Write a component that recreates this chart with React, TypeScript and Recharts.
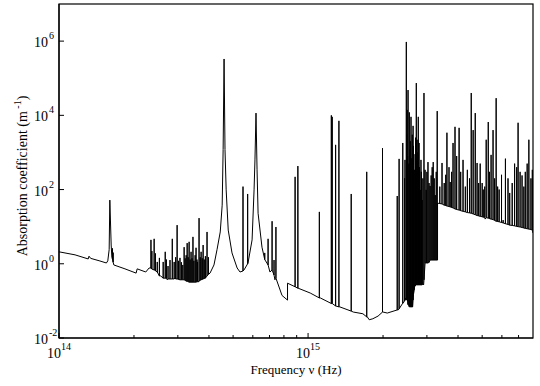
import React from 'react';
import { LineChart, Line, XAxis, YAxis } from 'recharts';

// Smooth absorption profile (continuum + broad Lorentzian bands), Hz -> m^-1
const continuumHz = [
  1.0e14, 1.16e14, 1.31e14, 1.32e14, 1.34e14, 1.46e14, 1.55e14, 1.57e14, 1.59e14, 1.6e14,
  1.62e14, 1.63e14, 1.66e14, 1.84e14, 2.04e14, 2.06e14, 2.23e14, 2.3e14, 2.43e14, 2.56e14,
  2.72e14, 2.92e14, 3.12e14, 3.36e14, 3.61e14, 3.85e14, 4.04e14, 4.19e14, 4.31e14, 4.44e14,
  4.52e14, 4.56e14, 4.6e14, 4.64e14, 4.69e14, 4.78e14, 4.95e14, 5.19e14, 5.33e14, 5.53e14,
  5.74e14, 5.96e14, 6.07e14, 6.12e14, 6.18e14, 6.24e14, 6.3e14, 6.53e14, 6.72e14, 7.03e14,
  7.36e14, 7.86e14, 8.27e14, 8.27e14, 9.12e14, 1.02e15, 1.12e15, 1.34e15, 1.52e15, 1.66e15,
  1.73e15, 1.76e15, 1.82e15, 1.91e15, 2.0e15, 2.08e15, 2.3e15, 2.41e15, 2.47e15, 2.56e15,
  2.63e15, 2.68e15, 2.91e15, 2.96e15, 3.04e15, 3.1e15, 3.31e15, 3.31e15, 5.14e15, 8.0e15,
];
const continuumAbs = [
  2.1, 1.74, 1.35, 1.6, 1.4, 1.19, 1.05, 1.2, 2.4, 52,
  3.2, 1.5, 0.93, 0.73, 0.56, 0.73, 0.6, 0.77, 0.68, 0.47,
  0.37, 0.41, 0.37, 0.32, 0.32, 0.41, 0.56, 0.93, 2.4, 7.2,
  38, 1.2e3, 3.3e5, 1.2e3, 98, 8.1, 1.96, 0.77, 0.6, 0.68,
  1.05, 4.4, 98, 630, 1.15e4, 340, 23, 2.8, 1.26, 0.6,
  0.37, 0.14, 0.105, 0.3, 0.22, 0.163, 0.12, 0.069, 0.05, 0.045,
  0.037, 0.031, 0.033, 0.039, 0.05, 0.047, 0.057, 0.087, 0.12, 0.069,
  0.069, 0.27, 0.27, 1.05, 1.05, 1.26, 1.26, 43, 16, 6.7,
];

// Narrow lines below 3.3e15 Hz: position, floor under the line, peak
const lowLineHz = [
  1.64e14, 1.65e14,
  2.34e14, 2.36e14, 2.41e14, 2.44e14, 2.48e14, 2.53e14, 2.62e14, 2.67e14, 2.7e14, 2.74e14,
  2.79e14, 2.85e14, 2.9e14, 2.94e14, 2.98e14, 3.02e14, 3.06e14, 3.1e14, 3.14e14, 3.18e14,
  3.21e14, 3.24e14, 3.27e14, 3.3e14, 3.33e14, 3.36e14, 3.39e14, 3.42e14, 3.45e14, 3.48e14,
  3.52e14, 3.55e14, 3.58e14, 3.6e14, 3.65e14, 3.69e14, 3.72e14, 3.76e14, 3.79e14, 3.83e14,
  3.87e14, 3.93e14, 3.98e14,
  5.48e14, 5.72e14, 6.7e14, 6.91e14, 7.17e14, 7.3e14, 7.43e14,
  8.87e14, 9.1e14, 1.11e15, 1.24e15, 1.25e15, 1.29e15, 1.33e15, 1.49e15, 1.72e15, 1.99e15,
  2.28e15, 2.32e15, 2.4e15,
  2.44e15, 2.45e15, 2.48e15, 2.49e15, 2.5e15, 2.51e15, 2.52e15, 2.54e15, 2.55e15, 2.57e15,
  2.58e15, 2.59e15, 2.61e15, 2.62e15, 2.64e15, 2.65e15, 2.67e15, 2.69e15, 2.7e15, 2.72e15,
  2.73e15, 2.74e15, 2.76e15, 2.77e15, 2.79e15, 2.8e15, 2.82e15, 2.84e15, 2.85e15, 2.87e15,
  2.89e15, 2.92e15, 2.95e15, 2.98e15, 3.0e15, 3.03e15, 3.06e15, 3.09e15, 3.12e15, 3.15e15,
  3.18e15, 3.21e15, 3.24e15, 3.27e15, 3.3e15,
];
const lowLineBase = [
  1.3, 1.1,
  0.77, 0.72, 0.68, 0.64, 0.6, 0.47, 0.41, 0.41, 0.4, 0.39,
  0.39, 0.39, 0.39, 0.39, 0.39, 0.38, 0.37, 0.37, 0.37, 0.37,
  0.36, 0.34, 0.34, 0.33, 0.32, 0.32, 0.32, 0.32, 0.32, 0.32,
  0.32, 0.32, 0.33, 0.34, 0.34, 0.36, 0.37, 0.38, 0.39, 0.4,
  0.41, 0.47, 0.52,
  0.64, 1.0, 1.3, 0.93, 0.68, 0.5, 0.41,
  0.24, 0.22, 0.12, 0.085, 0.085, 0.073, 0.069, 0.053, 0.037, 0.05,
  0.057, 0.061, 0.087,
  0.1, 0.105, 0.105, 0.11, 0.13, 0.1, 0.08, 0.075, 0.069, 0.069,
  0.069, 0.069, 0.069, 0.069, 0.105, 0.15, 0.2, 0.25, 0.27, 0.27,
  0.27, 0.27, 0.27, 0.27, 0.27, 0.27, 0.27, 0.27, 0.27, 0.27,
  0.3, 0.37, 1.05, 1.05, 1.05, 1.05, 1.1, 1.26, 1.26, 1.26,
  1.26, 1.26, 1.26, 1.26, 1.26,
];
const lowLinePeak = [
  2.6, 2.0,
  4.4, 2.2, 4.7, 1.9, 1.12, 1.44, 1.12, 2.1, 1.3, 0.87,
  1.26, 4.7, 1.12, 1.5, 11, 1.2, 1.44, 1.1, 0.93, 2.8,
  1.4, 1.7, 3.6, 1.5, 3.9, 1.3, 2.1, 1.4, 5.3, 1.2,
  1.7, 2.7, 1.3, 1.12, 17, 1.5, 2.1, 1.4, 3.2, 1.3,
  1.6, 7.2, 1.5,
  120, 76, 1.96, 4.7, 14, 1.26, 9.8,
  220, 430, 25, 1.0e4, 9.1e3, 1.6e3, 7.1e3, 76, 300, 1.3e3,
  67, 670, 1.8e3,
  200, 630, 9.5e5, 3.0e3, 1.4e4, 800, 4.8e4, 500, 1.2e4, 1.2e3,
  2.0e3, 9.1e3, 700, 3.0e3, 5.2e3, 1.5e3, 340, 900, 2.5e3, 7.4e4,
  600, 2.2e3, 1.0e3, 9.1e3, 1.8e3, 400, 98, 630, 300, 52,
  200, 4.0e4, 340, 98, 300, 550, 150, 125, 240, 400,
  550, 200, 71, 300, 1.3e4,
];

// Lines on the raised continuum above 3.3e15 Hz
const highLineHz = [
  3.38e15, 3.45e15, 3.52e15, 3.57e15, 3.61e15, 3.68e15, 3.72e15, 3.77e15, 3.82e15, 3.89e15,
  3.95e15, 4.04e15, 4.1e15, 4.19e15, 4.28e15, 4.36e15, 4.45e15, 4.52e15, 4.6e15, 4.69e15,
  4.77e15, 4.84e15, 4.91e15, 5.0e15, 5.05e15, 5.12e15, 5.19e15, 5.29e15, 5.35e15, 5.43e15,
  5.53e15, 5.61e15, 5.69e15, 5.77e15, 5.85e15, 5.98e15, 6.07e15, 6.2e15, 6.35e15, 6.45e15,
  6.6e15, 6.75e15, 6.88e15, 6.97e15, 7.1e15, 7.23e15, 7.35e15, 7.45e15, 7.58e15, 7.7e15,
  7.85e15, 7.95e15,
];
const highLineBase = [
  42, 41, 38, 37, 36, 35, 34, 33, 32, 30,
  29, 28, 27, 26, 25, 24, 23.5, 23, 22, 21,
  20, 19.5, 19, 18.5, 18, 17.8, 17.5, 17, 16.5, 16,
  15.5, 14.8, 14, 13.8, 13.5, 13, 12.6, 12, 11.5, 11,
  10.8, 10.5, 10.2, 10, 9.8, 9.5, 9.2, 9, 8.8, 8.6,
  8.4, 8.1,
];
const highLinePeak = [
  120, 520, 150, 250, 3.4e3, 400, 160, 300, 1.8e3, 4.9e3,
  800, 4.6e3, 300, 630, 120, 340, 200, 4.0e4, 4.0e3, 1.15e4,
  520, 150, 500, 150, 100, 120, 2.2e3, 6.6e3, 300, 860,
  4.0e3, 200, 2.9e4, 120, 100, 250, 15, 680, 200, 81,
  150, 500, 400, 6.3e3, 300, 240, 120, 300, 500, 2.2e3,
  200, 340,
];

const xTicks = [
  1e14, 2e14, 3e14, 4e14, 5e14, 6e14, 7e14, 8e14, 9e14,
  1e15, 2e15, 3e15, 4e15, 5e15, 6e15, 7e15,
];
const yTicks = [1e-2, 1e0, 1e2, 1e4, 1e6];

type Point = { hz: number; abs: number };

const toLines = (hz: number[], base: number[], peak: number[]): Point[] =>
  hz.flatMap((f, i) => [
    { hz: f, abs: base[i] },
    { hz: f, abs: peak[i] },
    { hz: f, abs: base[i] },
  ]);

const spectrum: Point[] = [
  ...continuumHz.map((hz, i) => ({ hz, abs: continuumAbs[i] })),
  ...toLines(lowLineHz, lowLineBase, lowLinePeak),
  ...toLines(highLineHz, highLineBase, highLinePeak),
].sort((a, b) => a.hz - b.hz);

const FONT = '"Liberation Serif", "Times New Roman", serif';

const isDecade = (v: number) => Math.abs(Math.log10(v) - Math.round(Math.log10(v))) < 1e-6;

const BottomTick = (props: any) => {
  const { x, y, payload } = props;
  const major = isDecade(payload.value);
  const exp = Math.round(Math.log10(payload.value));
  return (
    <g>
      <line x1={x} y1={y} x2={x} y2={y - (major ? 5 : 3)} stroke="#000" strokeWidth={1} />
      {major && (
        <text x={x} y={y + 20} textAnchor="middle" fontFamily={FONT} fontSize={14} fill="#000">
          10<tspan fontSize={10} dy={-8}>{exp}</tspan>
        </text>
      )}
    </g>
  );
};

const TopTick = (props: any) => {
  const { x, y, payload } = props;
  const major = isDecade(payload.value);
  return <line x1={x} y1={y} x2={x} y2={y + (major ? 5 : 3)} stroke="#000" strokeWidth={1} />;
};

const LeftTick = (props: any) => {
  const { x, y, payload } = props;
  const exp = Math.round(Math.log10(payload.value));
  return (
    <g>
      <line x1={x} y1={y} x2={x + 5} y2={y} stroke="#000" strokeWidth={1} />
      <text x={x - 11} y={y + 6} textAnchor="end" fontFamily={FONT} fontSize={14} fill="#000">10</text>
      <text x={x - 10} y={y - 2} textAnchor="start" fontFamily={FONT} fontSize={10} fill="#000">{exp}</text>
    </g>
  );
};

const RightTick = (props: any) => {
  const { x, y } = props;
  return <line x1={x} y1={y} x2={x - 5} y2={y} stroke="#000" strokeWidth={1} />;
};

const axisLine = { stroke: '#000', strokeWidth: 1.2 };

export default function App() {
  return (
    <div style={{ position: 'absolute', left: 0, top: 0, width: 540, height: 386, background: '#fff' }}>
      <LineChart width={540} height={386} data={spectrum} margin={{ top: 4, right: 7, bottom: 0, left: 0 }}>
        <XAxis
          dataKey="hz"
          type="number"
          scale="log"
          domain={[1e14, 8e15]}
          allowDataOverflow
          ticks={xTicks}
          interval={0}
          height={48}
          tickSize={0}
          tickMargin={0}
          tickLine={false}
          axisLine={axisLine}
          tick={<BottomTick />}
        />
        <XAxis
          xAxisId="top"
          orientation="top"
          dataKey="hz"
          type="number"
          scale="log"
          domain={[1e14, 8e15]}
          allowDataOverflow
          ticks={xTicks}
          interval={0}
          height={0}
          tickSize={0}
          tickMargin={0}
          tickLine={false}
          axisLine={axisLine}
          tick={<TopTick />}
        />
        <YAxis
          type="number"
          scale="log"
          domain={[1e-2, 1e7]}
          allowDataOverflow
          ticks={yTicks}
          interval={0}
          width={59}
          tickSize={0}
          tickMargin={0}
          tickLine={false}
          axisLine={axisLine}
          tick={<LeftTick />}
        />
        <YAxis
          yAxisId="right"
          orientation="right"
          type="number"
          scale="log"
          domain={[1e-2, 1e7]}
          allowDataOverflow
          ticks={yTicks}
          interval={0}
          width={0}
          tickSize={0}
          tickMargin={0}
          tickLine={false}
          axisLine={axisLine}
          tick={<RightTick />}
        />
        <Line
          dataKey="abs"
          type="linear"
          stroke="#000"
          strokeWidth={1}
          dot={false}
          activeDot={false}
          isAnimationActive={false}
        />
        {/* plot frame */}
        <rect x={59} y={4} width={474} height={334} fill="none" stroke="#000" strokeWidth={1.2} />
        <text x={296} y={374} textAnchor="middle" fontFamily={FONT} fontSize={13} fill="#000">
          Frequency ν (Hz)
        </text>
        <text
          x={27}
          y={176}
          transform="rotate(-90, 27, 176)"
          textAnchor="middle"
          fontFamily={FONT}
          fontSize={14}
          fill="#000"
        >
          Absorption coefficient (m<tspan fontSize={10} dy={-6}> -1</tspan><tspan dy={6}>)</tspan>
        </text>
      </LineChart>
    </div>
  );
}
